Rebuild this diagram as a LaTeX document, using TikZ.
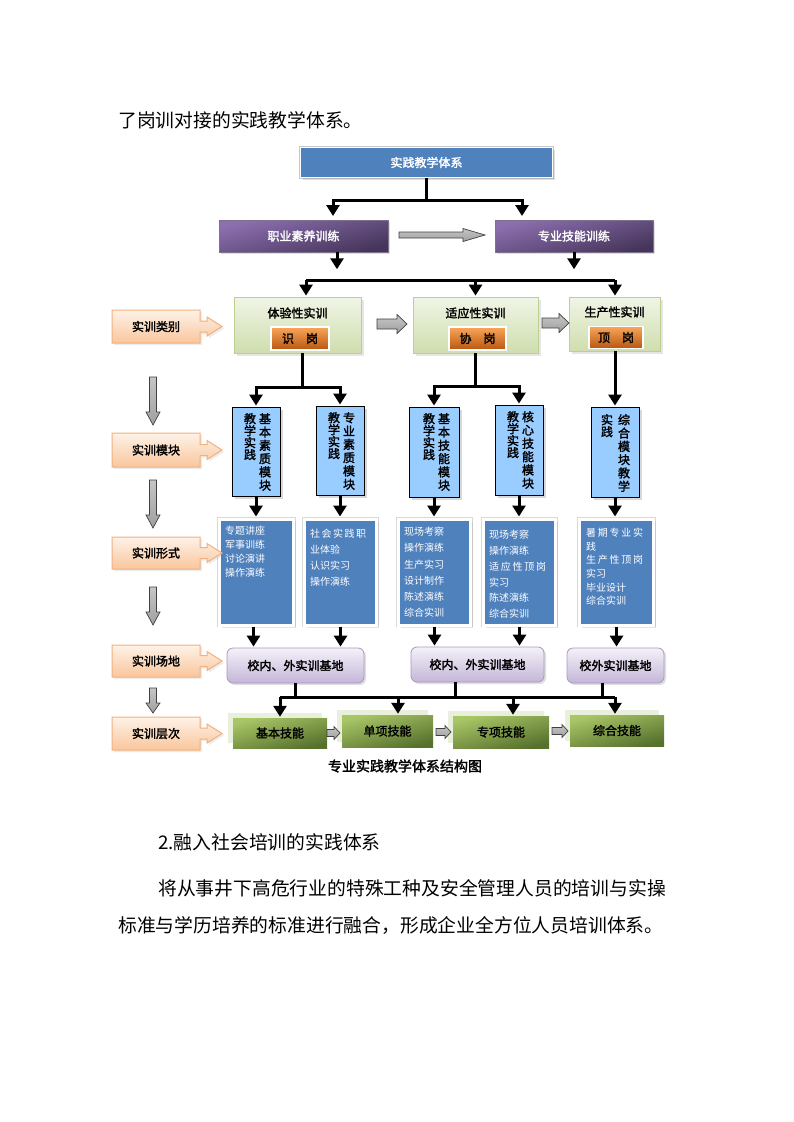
\documentclass[tikz,border=0pt]{standalone}
\usepackage{fontspec}
\newfontfamily\cjk{Noto Sans CJK SC}[AutoFakeBold=2]
\usetikzlibrary{shadows,arrows.meta,calc}
\definecolor{topblue}{HTML}{4F81BD}
\definecolor{purpleL}{HTML}{8D6FB0}
\definecolor{purpleD}{HTML}{45355A}
\definecolor{greenL}{HTML}{F0F5E6}
\definecolor{greenD}{HTML}{CFDEAE}
\definecolor{greenB}{HTML}{BCD092}
\definecolor{orangeL}{HTML}{F9A65A}
\definecolor{orangeD}{HTML}{B8560F}
\definecolor{lightblue}{HTML}{99CCFF}
\definecolor{lavL}{HTML}{F4F1F8}
\definecolor{lavD}{HTML}{C4B6D8}
\definecolor{lavB}{HTML}{A897C2}
\definecolor{gL}{HTML}{A9C667}
\definecolor{gD}{HTML}{56712C}
\definecolor{eshadow}{HTML}{E8EFDA}
\definecolor{peachL}{HTML}{FEF2E8}
\definecolor{peachD}{HTML}{F9C69C}
\definecolor{peachB}{HTML}{F3B07F}
\newcommand\myharr[6]{\draw[garrow] (#1,{#3-#4}) -- ({#2-#6},{#3-#4}) -- ({#2-#6},{#3-#5}) -- (#2,#3) -- ({#2-#6},{#3+#5}) -- ({#2-#6},{#3+#4}) -- (#1,{#3+#4}) -- cycle;}
\newcommand\myvarr[6]{\draw[garrow] ({#1-#4},#2) -- ({#1-#4},{#3-#6}) -- ({#1-#5},{#3-#6}) -- (#1,#3) -- ({#1+#5},{#3-#6}) -- ({#1+#4},{#3-#6}) -- ({#1+#4},#2) -- cycle;}
\newcommand\mycallout[4]{%
  \pgfmathsetmacro\mymid{(#2+#3)/2}%
  \draw[callst] (112,#2) -- (200,#2) -- (200,\mymid-5.5) -- (207,\mymid-5.5) -- (207,\mymid-9.5) -- (222,\mymid) -- (207,\mymid+9.5) -- (207,\mymid+5.5) -- (200,\mymid+5.5) -- (200,#3) -- (112,#3) -- cycle;
  \node[lblfont] (#1) at (156,\mymid) {#4};}
\lineskiplimit=-20pt\relax
\tikzset{
  lblfont/.style={font=\cjk\bfseries\fontsize{12}{14}\selectfont, inner sep=0pt},
  topbox/.style={lblfont, text=white, fill=topblue, draw=white, line width=1.8pt,
     preaction={draw=black!22, line width=3.6pt},
     drop shadow={shadow xshift=2pt, shadow yshift=-2pt, opacity=0.25}},
  pbox/.style={lblfont, text=white, top color=purpleL, bottom color=purpleD, shading angle=15,
     draw=purpleD!70, line width=0.5pt,
     drop shadow={shadow xshift=2pt, shadow yshift=-2pt, opacity=0.25}},
  gbox/.style={inner sep=0pt, top color=greenL, bottom color=greenD, draw=greenB, line width=0.8pt,
     drop shadow={shadow xshift=2.5pt, shadow yshift=-2.5pt, opacity=0.2}},
  obox/.style={lblfont, text=black, top color=orangeL, bottom color=orangeD, draw=white, line width=1.5pt},
  bbox/.style={inner sep=0pt, fill=lightblue, draw=black, line width=0.9pt,
     drop shadow={shadow xshift=2.5pt, shadow yshift=-2.5pt, opacity=0.3}},
  cbox/.style={inner sep=0pt, fill=topblue, draw=white, line width=3pt,
     preaction={draw=black!15, line width=4.6pt},
     drop shadow={shadow xshift=2.5pt, shadow yshift=-2.5pt, opacity=0.2}},
  dbox/.style={lblfont, text=black, rounded corners=6pt, top color=lavL, bottom color=lavD,
     draw=lavB, line width=0.8pt,
     drop shadow={shadow xshift=2pt, shadow yshift=-2pt, opacity=0.25}},
  ebox/.style={lblfont, text=black, top color=gL, bottom color=gD, shading angle=15,
     drop shadow={shadow xshift=-5pt, shadow yshift=5pt, fill=eshadow, opacity=1}},
  callst/.style={top color=peachL, bottom color=peachD, draw=peachB, line width=1pt,
     drop shadow={shadow xshift=2pt, shadow yshift=-2pt, opacity=0.15}},
  garrow/.style={top color=gray!45, bottom color=gray!75, draw=black!75, line width=0.7pt},
  vtext/.style={font=\cjk\bfseries\fontsize{12}{13.3}\selectfont, align=center, inner sep=0pt, anchor=north},
  vtextL/.style={font=\cjk\bfseries\fontsize{12}{12}\selectfont, align=center, inner sep=0pt, anchor=north},
  ctext/.style={text=white, align=left, inner sep=0pt, anchor=north west},
  conn/.style={line width=3pt, draw=black},
  connA/.style={line width=3pt, draw=black, -{Triangle[width=13pt,length=11pt]}, shorten >=1pt},
  body/.style={font=\cjk\fontsize{18.8}{22}\selectfont, inner sep=0pt, anchor=west},
}
\begin{document}
\begin{tikzpicture}[x=1pt,y=-1pt]
\useasboundingbox[fill=white] (0,0) rectangle (793,1122);

% body text
\node[body] (t1) at (118,120) {了岗训对接的实践教学体系。};
\node[body] (t2) at (158,842) {2.融入社会培训的实践体系};
\node[body] (t3) at (158,888) {将从事井下高危行业的特殊工种及安全管理人员的培训与实操};
\node[body] (t4) at (118,925) {标准与学历培养的标准进行融合，形成企业全方位人员培训体系。};

% top
\node[topbox, minimum width=252pt, minimum height=30pt] (top) at (426.5,162.5) {实践教学体系};
\node[pbox, minimum width=169pt, minimum height=32pt] (p1) at (303.5,236) {职业素养训练};
\node[pbox, minimum width=158pt, minimum height=32pt] (p2) at (574,236) {专业技能训练};
\myharr{399}{485}{235}{3}{6.5}{22}

% row 2
\node[gbox, minimum width=127pt, minimum height=56pt] (g1) at (297.5,325) {};
\node[gbox, minimum width=125pt, minimum height=56pt] (g2) at (475.5,325) {};
\node[gbox, minimum width=91pt, minimum height=54pt] (g3) at (614.5,324) {};
\node[lblfont] (g1t) at (297.5,313) {体验性实训};
\node[lblfont] (g2t) at (475.5,313) {适应性实训};
\node[lblfont] (g3t) at (614.5,312) {生产性实训};
\node[obox, minimum width=58pt, minimum height=23pt] (o1) at (300,338.5) {识\hspace{12pt}岗};
\node[obox, minimum width=57pt, minimum height=23pt] (o2) at (477.5,338.5) {协\hspace{12pt}岗};
\node[obox, minimum width=54pt, minimum height=22pt] (o3) at (616,337.5) {顶\hspace{12pt}岗};
\myharr{377}{407}{324}{5}{9.5}{10}
\myharr{542}{569}{323}{5}{9.5}{10}

% row 3
\node[bbox, minimum width=48pt, minimum height=89pt] (b1) at (256,451.5) {};
\node[bbox, minimum width=48pt, minimum height=89pt] (b2) at (340,450.5) {};
\node[bbox, minimum width=50pt, minimum height=90pt] (b3) at (434,452) {};
\node[bbox, minimum width=48pt, minimum height=90pt] (b4) at (519,450) {};
\node[bbox, minimum width=48pt, minimum height=90pt] (b5) at (615,452) {};
\node[vtext] (b1r) at (265,413) {基\\本\\素\\质\\模\\块};
\node[vtextL] (b1l) at (250,413) {教\\学\\实\\践};
\node[vtext] (b2r) at (349,412) {专\\业\\素\\质\\模\\块};
\node[vtextL] (b2l) at (334,412) {教\\学\\实\\践};
\node[vtext] (b3r) at (444,413) {基\\本\\技\\能\\模\\块};
\node[vtextL] (b3l) at (429,413) {教\\学\\实\\践};
\node[vtext] (b4r) at (528,411) {核\\心\\技\\能\\模\\块};
\node[vtextL] (b4l) at (513,411) {教\\学\\实\\践};
\node[vtext] (b5r) at (624,414) {综\\合\\模\\块\\教\\学};
\node[vtextL] (b5l) at (607,414) {实\\践};

% row 4
\node[cbox, minimum width=74pt, minimum height=106pt] (c1) at (256.5,572) {};
\node[cbox, minimum width=72pt, minimum height=106pt] (c2) at (340.5,572) {};
\node[cbox, minimum width=72pt, minimum height=106pt] (c3) at (434.5,572) {};
\node[cbox, minimum width=72pt, minimum height=106pt] (c4) at (519.5,572) {};
\node[cbox, minimum width=74pt, minimum height=106pt] (c5) at (616.5,572) {};
\node[ctext, font=\cjk\fontsize{10}{14}\selectfont] (c1t) at (225,526) {专题讲座\\军事训练\\讨论演讲\\操作演练};
\node[ctext, font=\cjk\fontsize{10}{16}\selectfont] (c2t) at (310,529) {\makebox[56pt][s]{社\hfill 会\hfill 实\hfill 践\hfill 职}\\业体验\\认识实习\\操作演练};
\node[ctext, font=\cjk\fontsize{10}{16.2}\selectfont] (c3t) at (404,527) {现场考察\\操作演练\\生产实习\\设计制作\\陈述演练\\综合实训};
\node[ctext, font=\cjk\fontsize{10}{15.8}\selectfont] (c4t) at (489,530) {现场考察\\操作演练\\\makebox[57pt][s]{适\hfill 应\hfill 性\hfill 顶\hfill 岗}\\实习\\陈述演练\\综合实训};
\node[ctext, font=\cjk\fontsize{10}{13.6}\selectfont] (c5t) at (586,528) {\makebox[57pt][s]{暑\hfill 期\hfill 专\hfill 业\hfill 实}\\践\\\makebox[57pt][s]{生\hfill 产\hfill 性\hfill 顶\hfill 岗}\\实习\\毕业设计\\综合实训};

% row 5
\node[dbox, minimum width=137pt, minimum height=35pt] (d1) at (295.5,665.5) {校内、外实训基地};
\node[dbox, minimum width=133pt, minimum height=35pt] (d2) at (477.5,664.5) {校内、外实训基地};
\node[dbox, minimum width=97pt, minimum height=35pt] (d3) at (615.5,665.5) {校外实训基地};

% row 6
\node[ebox, minimum width=94pt, minimum height=30pt] (e1) at (280,733) {基本技能};
\node[ebox, minimum width=91pt, minimum height=32pt] (e2) at (387.5,731) {单项技能};
\node[ebox, minimum width=96pt, minimum height=32pt] (e3) at (501,732) {专项技能};
\node[ebox, minimum width=94pt, minimum height=31pt] (e4) at (617,730.5) {综合技能};
\myharr{327}{340}{733}{3.5}{6.5}{6}
\myharr{436}{451}{732}{3.5}{6.5}{6}
\myharr{552}{568}{731}{3.5}{6.5}{6}

% left column
\mycallout{L1}{310}{343}{实训类别}
\mycallout{L2}{433}{467}{实训模块}
\mycallout{L3}{537}{569}{实训形式}
\mycallout{L4}{645}{677}{实训场地}
\mycallout{L5}{717}{750}{实训层次}
\myvarr{153}{377}{425}{3.5}{7}{13}
\myvarr{153}{480}{528}{3.5}{7}{13}
\myvarr{153}{587}{625}{3.5}{7}{13}
\myvarr{153}{688}{713}{3.5}{7}{10}

% caption
\node[font=\cjk\bfseries\fontsize{14}{16}\selectfont, inner sep=0pt] (cap) at (405,766) {专业实践教学体系结构图};

% connectors
\coordinate (ax1) at (333,217);
\coordinate (ax2) at (522,217);
\draw[connA] (top.south) -- ++(0,22) -| (ax1);
\draw[connA] (top.south) -- ++(0,22) -| (ax2);
\draw[connA] ([xshift=33.5pt]p1.south) -- ++(0,18);
\draw[connA] (p2.south) -- ++(0,18);
\coordinate (hl) at (306,280);
\coordinate (hr) at (615,280);
\draw[conn] (hl) -- (hr);
\draw[connA] (hl) -- (hl |- g1.north);
\draw[connA] (g2.north |- hl) -- (g2.north);
\draw[connA] (hr) -- (hr |- g3.north);

\draw[conn] ([xshift=4.5pt]g1.south) -- ++(0,34) coordinate (k1);
\draw[connA] (k1) -| (b1.north);
\draw[connA] (k1) -| (b2.north);
\draw[conn] (g2.south) -- ++(0,33) coordinate (k2);
\draw[connA] (k2) -| (b3.north);
\draw[connA] (k2) -| (b4.north);
\draw[connA] (b5.north |- g3.south) -- (b5.north);

\foreach \i in {1,...,5}{\draw[connA] (b\i.south) -- (b\i.south |- c\i.north);}

\draw[connA] ([xshift=-3pt]c1.south) -- ([xshift=-3pt]c1.south |- d1.north);
\draw[connA] (c2.south) -- (c2.south |- d1.north);
\draw[connA] (c3.south) -- (c3.south |- d2.north);
\draw[connA] (c4.south) -- (c4.south |- d2.north);
\draw[connA] (c5.south) -- (c5.south |- d3.north);

\coordinate (m1) at (280,697);
\coordinate (m2) at (398,697);
\coordinate (m3) at (513,697);
\coordinate (m4) at (615,697);
\draw[conn] (d1.south) -- (d1.south |- m1);
\draw[conn] ([xshift=-22.5pt]d2.south) -- ([xshift=-22.5pt]d2.south |- m1);
\draw[conn] ([xshift=-13.5pt]d3.south) -- ([xshift=-13.5pt]d3.south |- m1);
\draw[conn] (m1) -- (m4);
\draw[connA] (m1) -- (m1 |- e1.north);
\draw[connA] (m2) -- (m2 |- e2.north);
\draw[connA] (m3) -- (m3 |- e3.north);
\draw[connA] (m4) -- (m4 |- e4.north);
\end{tikzpicture}
\end{document}
